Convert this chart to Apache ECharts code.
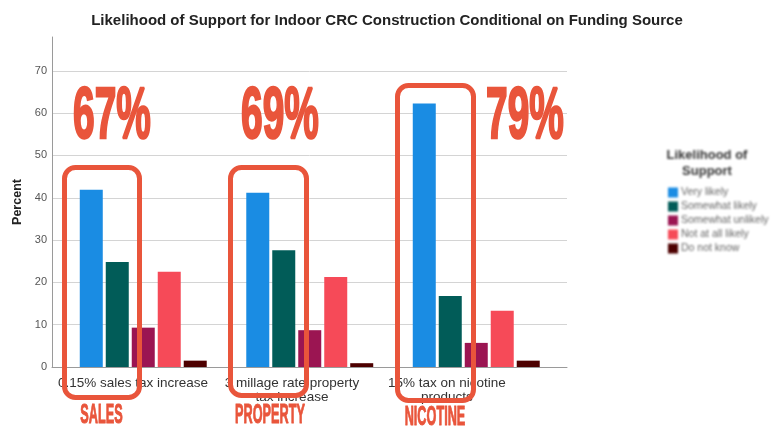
<!DOCTYPE html>
<html>
<head>
<meta charset="utf-8">
<script src="https://cdn.jsdelivr.net/npm/echarts@6/dist/echarts.min.js"></script>
<style>
  html, body { margin: 0; padding: 0; background: #fff; }
  #chart { position: absolute; left: 0; top: 0; width: 774px; height: 427px; }
  #legend { position: absolute; left: 640px; top: 130px; width: 134px; height: 140px; filter: blur(1.2px); }
</style>
</head>
<body>
<div id="chart"></div>
<div id="legend"></div>
<script>
// Funding sources (x categories)
const categories = [
  '0.15% sales tax increase',
  '3 millage rate property\ntax increase',
  '15% tax on nicotine\nproducts'
];
const sourceTags = ['SALES', 'PROPERTY', 'NICOTINE'];

// Response levels and their shares (percent) per funding source
const responseLevels = ['Very likely', 'Somewhat likely', 'Somewhat unlikely', 'Not at all likely', 'Do not know'];
const veryLikely       = [41.9, 41.2, 62.3];
const somewhatLikely   = [24.8, 27.6, 16.8];
const somewhatUnlikely = [9.3, 8.7, 5.7];
const notAtAllLikely   = [22.5, 21.3, 13.3];
const doNotKnow        = [1.5, 0.9, 1.5];

const yTicks = [0, 10, 20, 30, 40, 50, 60, 70];

const levelColors = ['#1a8ce3', '#015c58', '#9b1552', '#f64a58', '#4d0000'];
const accent = '#e9553b';

const seriesValues = [veryLikely, somewhatLikely, somewhatUnlikely, notAtAllLikely, doNotKnow];

// combined "likely" share per source, shown as the headline number
const likelyTotals = veryLikely.map((v, i) => Math.round(v + somewhatLikely[i]));

const chart = echarts.init(document.getElementById('chart'), null, { renderer: 'canvas' });

const labelShift = [9.6, 35, 68.4];
const rich = {};
labelShift.forEach((p, i) => {
  rich['c' + i] = { fontSize: 13.5, lineHeight: 14, color: '#333', fontFamily: 'Liberation Sans, Arial, sans-serif', padding: [0, p, 0, 0] };
});

const big = (text, cx, cy, size, sx, lw) => ({
  type: 'text', x: cx, y: cy, scaleX: sx, z: 100,
  style: {
    text, fill: accent, stroke: accent, lineWidth: lw,
    font: 'bold ' + size + 'px "Liberation Sans", Arial, sans-serif',
    textAlign: 'center', textVerticalAlign: 'middle'
  }
});
const box = (x1, y1, x2, y2) => ({
  type: 'rect', z: 100,
  shape: { x: x1, y: y1, width: x2 - x1, height: y2 - y1, r: 11 },
  style: { fill: 'none', stroke: accent, lineWidth: 5 }
});

const headlinePos = [[112, 118], [280, 118], [525, 118]];
const tagPos = [[101.5, 416], [270, 416], [435, 418]];

chart.setOption({
  animation: false,
  backgroundColor: '#fff',
  title: {
    text: 'Likelihood of Support for Indoor CRC Construction Conditional on Funding Source',
    left: 'center', top: 8,
    textStyle: { fontSize: 15, fontWeight: 'bold', color: '#222', fontFamily: 'Liberation Sans, Arial, sans-serif' }
  },
  grid: [
    { left: 52, top: 37, width: 515, height: 330 },
    { left: 60, top: 37, width: 499.5, height: 330 }
  ],
  xAxis: [
    {
      gridIndex: 0, type: 'category', data: categories,
      axisLine: { show: true, lineStyle: { color: '#9a9a9a', width: 1 } },
      axisTick: { show: false },
      axisLabel: {
        margin: 9, interval: 0,
        formatter: (v, i) => '{c' + i + '|' + v + '}',
        rich
      }
    },
    { gridIndex: 1, type: 'category', data: categories, show: false }
  ],
  yAxis: [
    {
      gridIndex: 0, type: 'value', min: 0, max: 78, interval: 10,
      axisLine: { show: true, lineStyle: { color: '#9a9a9a', width: 1 } },
      axisTick: { show: false },
      splitLine: { show: true, showMaxLine: false, lineStyle: { color: '#d4d4d4', width: 1 } },
      axisLabel: {
        showMaxLabel: false, margin: 5, fontSize: 11, color: '#555',
        fontFamily: 'Liberation Sans, Arial, sans-serif',
        formatter: v => (yTicks.indexOf(v) >= 0 ? String(v) : '')
      },
      name: 'Percent', nameLocation: 'middle', nameGap: 28,
      nameTextStyle: { fontSize: 12.5, fontWeight: 'bold', color: '#222', fontFamily: 'Liberation Sans, Arial, sans-serif' }
    },
    { gridIndex: 1, type: 'value', min: 0, max: 78, show: false }
  ],
  series: responseLevels.map((name, k) => ({
    name, type: 'bar', xAxisIndex: 1, yAxisIndex: 1,
    data: seriesValues[k], barWidth: 23, barGap: '13%',
    itemStyle: { color: levelColors[k] }
  })),
  graphic: [
    box(64.5, 167.5, 139.5, 397.5),
    box(230.5, 167.5, 306.5, 395.5),
    box(397.5, 85.5, 473.5, 400.5),
    ...likelyTotals.map((t, i) => big(t + '%', headlinePos[i][0], headlinePos[i][1], 72, 0.54, 2.5)),
    ...sourceTags.map((t, i) => big(t, tagPos[i][0], tagPos[i][1], 27, 0.47, 1))
  ]
});

// legend panel
const legendChart = echarts.init(document.getElementById('legend'), null, { renderer: 'canvas' });
legendChart.setOption({
  animation: false,
  title: {
    text: 'Likelihood of\nSupport', left: 'center', top: 12,
    textStyle: { fontSize: 13, fontWeight: 'bold', color: '#333', lineHeight: 16, fontFamily: 'Liberation Sans, Arial, sans-serif' }
  },
  grid: { left: 0, top: 0, width: 1, height: 1 },
  xAxis: { type: 'category', show: false, data: [] },
  yAxis: { type: 'value', show: false },
  legend: {
    orient: 'vertical', left: 23, top: 52,
    itemWidth: 10, itemHeight: 10, itemGap: 3, icon: 'rect',
    textStyle: { fontSize: 10.5, lineHeight: 10, color: '#666', padding: [0, 0, 0, -2], fontFamily: 'Liberation Sans, Arial, sans-serif' },
    data: responseLevels
  },
  series: responseLevels.map((name, k) => ({ name, type: 'bar', data: [], itemStyle: { color: levelColors[k] } }))
});
</script>
</body>
</html>
